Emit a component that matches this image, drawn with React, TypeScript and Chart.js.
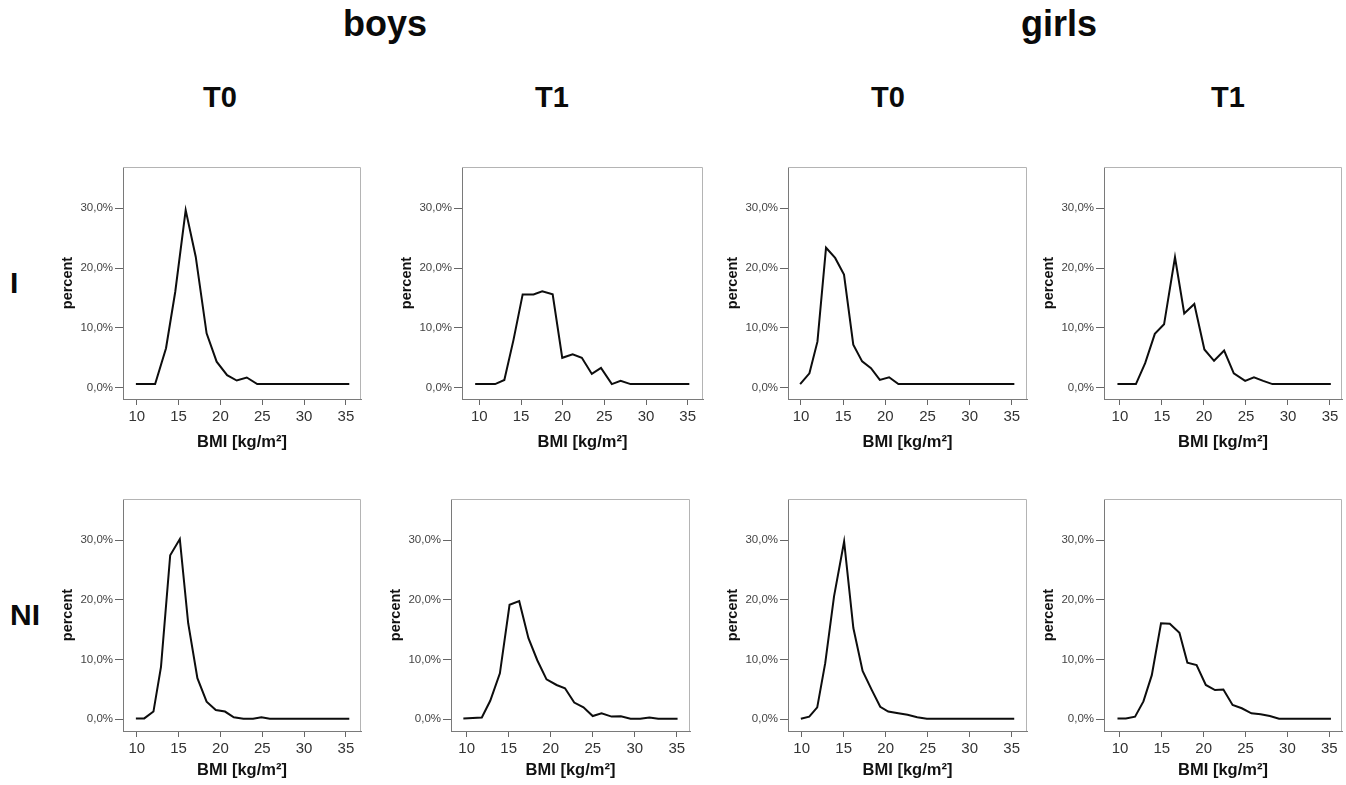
import React, { useEffect, useRef } from 'react';
import { Chart, registerables } from 'chart.js';

Chart.register(...registerables);

const FONT = "'Liberation Sans', Arial, Helvetica, sans-serif";

// ---- labels ----
const X_TICKS = [10, 15, 20, 25, 30, 35];
const Y_TICKS = [0, 10, 20, 30];
const X_TITLE = 'BMI [kg/m²]';
const Y_TITLE = 'percent';
const SEX_LABELS = ['boys', 'girls'];
const TIME_LABELS = ['T0', 'T1', 'T0', 'T1'];
const GROUP_LABELS = ['I', 'NI'];

// ---- data (BMI in kg/m², percent) ----
const I_BOYS_T0_X = [9.9, 12.2, 13.5, 14.6, 15.85, 17.05, 18.35, 19.55, 20.8, 21.95, 23.15, 24.4, 35.4];
const I_BOYS_T0_Y = [0.6, 0.6, 6.6, 16.0, 29.7, 21.9, 9.1, 4.35, 2.1, 1.2, 1.7, 0.6, 0.6];

const I_BOYS_T1_X = [9.5, 11.9, 13.0, 14.1, 15.2, 16.5, 17.55, 18.8, 19.95, 21.2, 22.3, 23.5, 24.6, 25.9, 26.95, 28.15, 35.2];
const I_BOYS_T1_Y = [0.6, 0.6, 1.3, 8.0, 15.6, 15.6, 16.1, 15.6, 5.0, 5.6, 5.0, 2.3, 3.3, 0.6, 1.15, 0.6, 0.6];

const I_GIRLS_T0_X = [9.9, 11.0, 11.95, 12.97, 14.05, 15.1, 16.2, 17.25, 18.3, 19.35, 20.45, 21.55, 35.3];
const I_GIRLS_T0_Y = [0.6, 2.4, 7.7, 23.4, 21.7, 18.9, 7.2, 4.4, 3.25, 1.3, 1.75, 0.6, 0.6];

const I_GIRLS_T1_X = [9.7, 11.9, 13.0, 14.15, 15.25, 16.55, 17.65, 18.85, 20.05, 21.2, 22.4, 23.55, 24.9, 25.95, 27.05, 28.15, 35.1];
const I_GIRLS_T1_Y = [0.6, 0.6, 4.1, 9.0, 10.6, 21.8, 12.4, 14.0, 6.4, 4.5, 6.2, 2.4, 1.15, 1.75, 1.15, 0.6, 0.6];

const NI_BOYS_T0_X = [9.9, 10.9, 12.0, 12.9, 14.0, 15.15, 16.15, 17.25, 18.35, 19.45, 20.55, 21.6, 22.75, 23.9, 24.9, 25.9, 35.4];
const NI_BOYS_T0_Y = [0.15, 0.15, 1.3, 8.8, 27.5, 30.2, 16.1, 6.9, 2.95, 1.55, 1.3, 0.35, 0.1, 0.1, 0.35, 0.1, 0.1];

const NI_BOYS_T1_X = [9.6, 11.8, 12.8, 13.95, 15.1, 16.25, 17.35, 18.4, 19.5, 20.7, 21.7, 22.8, 23.9, 25.0, 26.05, 27.25, 28.35, 29.5, 30.65, 31.75, 32.8, 35.1];
const NI_BOYS_T1_Y = [0.15, 0.3, 3.1, 7.7, 19.2, 19.8, 13.6, 9.9, 6.7, 5.75, 5.2, 2.8, 2.0, 0.55, 1.0, 0.45, 0.5, 0.1, 0.1, 0.3, 0.1, 0.1];

const NI_GIRLS_T0_X = [9.9, 10.9, 11.85, 12.8, 13.85, 15.05, 16.15, 17.25, 18.35, 19.35, 20.3, 21.5, 22.6, 23.75, 24.9, 35.3];
const NI_GIRLS_T0_Y = [0.1, 0.45, 2.0, 9.4, 20.6, 29.8, 15.3, 8.1, 4.9, 2.1, 1.3, 1.0, 0.75, 0.35, 0.1, 0.1];

const NI_GIRLS_T1_X = [9.7, 10.7, 11.8, 12.8, 13.8, 14.9, 15.95, 17.1, 18.05, 19.15, 20.25, 21.35, 22.35, 23.45, 24.55, 25.7, 26.8, 27.9, 29.0, 35.2];
const NI_GIRLS_T1_Y = [0.15, 0.15, 0.45, 3.0, 7.4, 16.1, 16.0, 14.5, 9.5, 9.1, 5.75, 4.9, 5.0, 2.4, 1.85, 1.0, 0.85, 0.55, 0.1, 0.1];

// ---- layout (plot box left, top, width, height; axis ranges) ----
const PANELS = [
  { xs: I_BOYS_T0_X, ys: I_BOYS_T0_Y, box: [123, 167, 238, 232], xr: [8.36, 36.8], yr: [-1.89, 36.9], tpb: 6.9 },
  { xs: I_BOYS_T1_X, ys: I_BOYS_T1_Y, box: [462, 167, 241, 232], xr: [7.92, 36.84], yr: [-1.89, 36.9], tpb: 6.9 },
  { xs: I_GIRLS_T0_X, ys: I_GIRLS_T0_Y, box: [788, 167, 239, 232], xr: [8.46, 36.8], yr: [-1.89, 36.9], tpb: 6.9 },
  { xs: I_GIRLS_T1_X, ys: I_GIRLS_T1_Y, box: [1104, 167, 238, 232], xr: [8.1, 36.43], yr: [-1.89, 36.9], tpb: 6.9 },
  { xs: NI_BOYS_T0_X, ys: NI_BOYS_T0_Y, box: [123, 499, 238, 232], xr: [8.36, 36.8], yr: [-1.96, 36.92], tpb: 10.5 },
  { xs: NI_BOYS_T1_X, ys: NI_BOYS_T1_Y, box: [451, 499, 239, 232], xr: [8.13, 36.58], yr: [-1.96, 36.92], tpb: 10.5 },
  { xs: NI_GIRLS_T0_X, ys: NI_GIRLS_T0_Y, box: [788, 499, 239, 232], xr: [8.37, 36.82], yr: [-1.96, 36.92], tpb: 10.5 },
  { xs: NI_GIRLS_T1_X, ys: NI_GIRLS_T1_Y, box: [1104, 499, 238, 232], xr: [8.09, 36.52], yr: [-1.96, 36.92], tpb: 10.5 },
];

const Y_AXIS_W = 80;
const X_AXIS_H = 60;
const PAD_TOP = 12;
const PAD_RIGHT = 6;

const framePlugin = {
  id: 'frame',
  afterDraw(chart: any) {
    const { ctx, chartArea: a } = chart;
    ctx.save();
    ctx.strokeStyle = '#b4b4b4';
    ctx.lineWidth = 1;
    ctx.beginPath();
    ctx.moveTo(a.left, a.top + 0.5);
    ctx.lineTo(a.right - 0.5, a.top + 0.5);
    ctx.lineTo(a.right - 0.5, a.bottom);
    ctx.stroke();
    ctx.restore();
  },
};

function Panel({ p }: { p: any }) {
  const ref = useRef<HTMLCanvasElement>(null);
  const [bl, bt, bw, bh] = p.box;
  const cw = Y_AXIS_W + bw + PAD_RIGHT;
  const ch = PAD_TOP + bh + X_AXIS_H;
  useEffect(() => {
    if (!ref.current) return;
    const chart = new Chart(ref.current, {
      type: 'line',
      data: {
        datasets: [
          {
            data: p.xs.map((x: number, i: number) => ({ x, y: p.ys[i] })),
            borderColor: '#0d0d0d',
            borderWidth: 2,
            pointRadius: 0,
            tension: 0,
            fill: false,
          },
        ],
      },
      options: {
        animation: false,
        responsive: false,
        maintainAspectRatio: false,
        layout: { padding: { top: PAD_TOP, right: PAD_RIGHT, left: 0, bottom: 0 } },
        plugins: { legend: { display: false }, tooltip: { enabled: false } },
        scales: {
          x: {
            type: 'linear',
            min: p.xr[0],
            max: p.xr[1],
            afterFit: (s: any) => { s.height = X_AXIS_H; },
            afterBuildTicks: (s: any) => { s.ticks = X_TICKS.map((v) => ({ value: v })); },
            ticks: {
              autoSkip: false,
              maxRotation: 0,
              padding: 3,
              color: '#333',
              font: { family: FONT, size: 15 },
              callback: (v: any) => String(v),
            },
            grid: { drawOnChartArea: false, drawTicks: true, tickLength: 6, color: '#666' },
            border: { color: '#7a7a7a', width: 1 },
            title: {
              display: true,
              text: X_TITLE,
              color: '#111',
              font: { family: FONT, size: 16.5, weight: 'bold' },
              padding: { top: 0, bottom: p.tpb },
            },
          },
          y: {
            type: 'linear',
            min: p.yr[0],
            max: p.yr[1],
            afterFit: (s: any) => { s.width = Y_AXIS_W; },
            afterBuildTicks: (s: any) => { s.ticks = Y_TICKS.map((v) => ({ value: v })); },
            ticks: {
              autoSkip: false,
              padding: 2,
              color: '#444',
              font: { family: FONT, size: 11.5 },
              callback: (v: any) => Number(v).toFixed(1).replace('.', ',') + '%',
            },
            grid: { drawOnChartArea: false, drawTicks: true, tickLength: 8, color: '#666' },
            border: { color: '#7a7a7a', width: 1 },
            title: {
              display: true,
              text: Y_TITLE,
              color: '#111',
              font: { family: FONT, size: 14.5, weight: 'bold' },
              padding: { top: 15.8, bottom: 0 },
            },
          },
        },
      } as any,
      plugins: [framePlugin],
    });
    return () => chart.destroy();
  }, []);
  return (
    <canvas
      ref={ref}
      width={cw}
      height={ch}
      style={{ position: 'absolute', left: bl - Y_AXIS_W, top: bt - PAD_TOP, width: cw, height: ch }}
    />
  );
}

function Label({ text, x, baseline, size, center }: { text: string; x: number; baseline: number; size: number; center?: boolean }) {
  return (
    <div
      style={{
        position: 'absolute',
        left: x,
        top: baseline - 0.8465 * size,
        fontFamily: FONT,
        fontWeight: 'bold',
        fontSize: size,
        lineHeight: `${size}px`,
        color: '#0a0a0a',
        whiteSpace: 'nowrap',
        transform: center ? 'translateX(-50%)' : undefined,
      }}
    >
      {text}
    </div>
  );
}

const SEX_X = [385, 1059];
const TIME_X = [220, 552, 888, 1228];
const GROUP_BASE = [293.3, 625.3];

export default function App() {
  return (
    <div style={{ position: 'absolute', left: 0, top: 0, width: 1346, height: 785, background: '#fff', overflow: 'hidden' }}>
      {SEX_LABELS.map((t, i) => (
        <Label key={'s' + i} text={t} x={SEX_X[i]} baseline={36.7} size={36} center />
      ))}
      {TIME_LABELS.map((t, i) => (
        <Label key={'t' + i} text={t} x={TIME_X[i]} baseline={107.3} size={29} center />
      ))}
      {GROUP_LABELS.map((t, i) => (
        <Label key={'g' + i} text={t} x={10} baseline={GROUP_BASE[i]} size={30} />
      ))}
      {PANELS.map((p, i) => (
        <Panel key={i} p={p} />
      ))}
    </div>
  );
}
